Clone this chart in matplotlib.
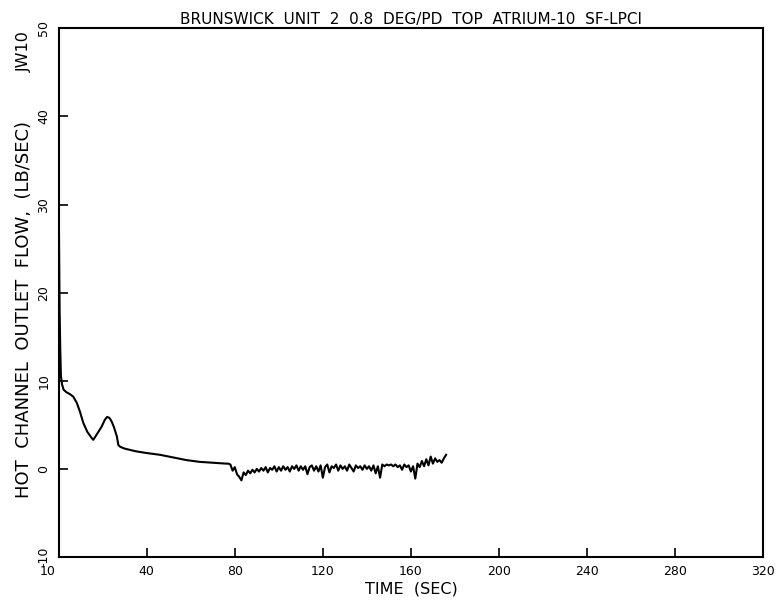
import numpy as np
import matplotlib
matplotlib.use("Agg")
from matplotlib import pyplot as plt
from matplotlib import transforms

# early transient (sec, lb/sec)
t_early = [0, 0.2, 0.4, 0.7, 1.0, 1.5, 2.2, 3.5, 5, 6.6, 8.2, 9.5, 11.2, 13, 15, 15.7,
           17, 18, 19.5, 21, 22, 23, 24, 25, 26.4, 27.1, 28, 30, 35, 40, 46, 52, 58,
           64, 70, 76, 77]
v_early = [30, 24, 18, 13.5, 10.5, 9.6, 9.0, 8.7, 8.5, 8.2, 7.5, 6.6, 5.2, 4.2, 3.5, 3.3,
           3.8, 4.2, 4.8, 5.6, 5.9, 5.8, 5.4, 4.8, 3.7, 2.7, 2.5, 2.3, 2.0, 1.8, 1.6, 1.3, 1.0,
           0.8, 0.7, 0.6, 0.6]

# noisy part, one value per second from 78 to 176
t_late = list(range(78, 177))
v_late = [0.5, -0.2, 0.2, -0.6, -0.9, -1.3, -0.4, -0.7, -0.2, -0.5,
          -0.1, -0.4, 0.0, -0.3, 0.1, -0.2, 0.2, -0.4, 0.1, -0.1,
          0.3, -0.3, 0.2, -0.2, 0.3, -0.1, 0.2, -0.3, 0.3, 0.0,
          0.4, -0.2, 0.3, -0.1, 0.3, -0.6, 0.2, 0.4, -0.2, 0.3,
          -0.3, 0.4, -1.0, 0.2, 0.5, -0.4, 0.3, 0.1, 0.5, -0.2,
          0.4, 0.0, 0.3, -0.2, 0.5, 0.1, -0.3, 0.4, 0.1, 0.3,
          -0.1, 0.4, 0.0, 0.3, -0.2, 0.4, -0.5, 0.3, -1.0, 0.5,
          0.3, 0.5, 0.4, 0.5, 0.3, 0.5, 0.2, 0.4, -0.1, 0.5,
          0.2, 0.4, -0.3, 0.3, -1.1, 0.6, 0.2, 0.9, 0.3, 1.1,
          0.4, 1.4, 0.6, 1.2, 0.8, 1.0, 0.7, 1.2, 1.6]

x_ticks = [0, 40, 80, 120, 160, 200, 240, 280, 320]
x_labels = ["10", "40", "80", "120", "160", "200", "240", "280", "320"]
y_ticks = [-10, 0, 10, 20, 30, 40, 50]
y_labels = ["-10", "0", "10", "20", "30", "40", "50"]

fig = plt.figure(figsize=(7.81, 6.04), dpi=100)
ax = fig.add_axes([0.0752, 0.0778, 0.9018, 0.8752])

ax.plot(t_early + t_late, v_early + v_late, color="black", lw=1.5)

ax.set_xlim(0, 320)
ax.set_ylim(-10, 50)
ax.set_xticks(x_ticks)
ax.set_xticklabels(x_labels, fontsize=9)
ax.set_yticks(y_ticks)
ax.set_yticklabels(y_labels, fontsize=9, rotation=90, va="center")
ax.tick_params(direction="in", length=6.5, width=1.2, top=False, right=False)
ax.tick_params(axis="x", pad=6)
ax.tick_params(axis="y", pad=6)
for s in ax.spines.values():
    s.set_linewidth(1.5)

# first x label sits a bit left of the corner in the original
first = ax.get_xticklabels()[0]
first.set_transform(first.get_transform() +
                    transforms.ScaledTranslation(-11 / 100, 0, fig.dpi_scale_trans))

ax.set_title("BRUNSWICK  UNIT  2  0.8  DEG/PD  TOP  ATRIUM-10  SF-LPCI", fontsize=11, pad=3)
ax.set_xlabel("TIME  (SEC)", fontsize=11.5, labelpad=2)
fig.text(0.031, 0.487, "HOT  CHANNEL  OUTLET  FLOW,  (LB/SEC)", rotation=90,
         fontsize=13, ha="center", va="center")
fig.text(0.031, 0.915, "JW10", rotation=90, fontsize=11.5, ha="center", va="center")

fig.savefig("out.png", dpi=100)
